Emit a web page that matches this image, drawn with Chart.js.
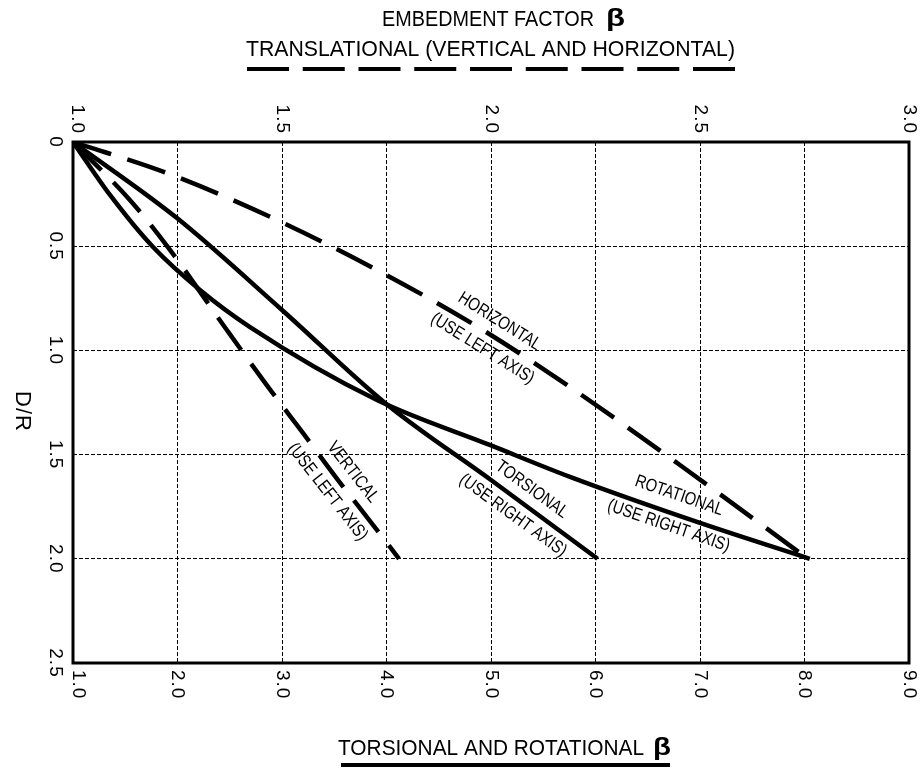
<!DOCTYPE html>
<html>
<head>
<meta charset="utf-8">
<script src="https://cdn.jsdelivr.net/npm/chart.js@4.4.1/dist/chart.umd.min.js"></script>
<style>
  html, body { margin: 0; padding: 0; background: #fff; }
  #wrap { width: 921px; height: 768px; }
</style>
</head>
<body>
<div id="wrap"><canvas id="myChart" width="921" height="768"></canvas></div>
<script>
// values: D/R against embedment factor beta
const horizontalBeta = [1.0, 1.225, 1.478, 1.727, 1.969, 2.189, 2.452, 2.758];
const horizontalDR   = [0,   0.149, 0.365, 0.614, 0.888, 1.176, 1.550, 2.0];

const verticalBeta = [1.0, 1.136, 1.227, 1.368, 1.467, 1.550, 1.634, 1.718, 1.780];
const verticalDR   = [0,   0.278, 0.504, 0.902, 1.176, 1.396, 1.622, 1.838, 2.0];

const torsionalBeta = [1.0, 1.995, 3.0, 3.986, 5.0, 6.02];
const torsionalDR   = [0,   0.365, 0.806, 1.252, 1.622, 2.0];

const rotationalBeta = [1.0, 1.354, 1.766, 2.215, 2.694, 3.909, 5.0, 5.756, 7.0, 8.05];
const rotationalDR   = [0,   0.254, 0.504, 0.710, 0.888, 1.238, 1.456, 1.607, 1.828, 2.0];

// tick labels
const topTicks = ['1.0', '1.5', '2.0', '2.5', '3.0'];
const bottomTicks = ['1.0', '2.0', '3.0', '4.0', '5.0', '6.0', '7.0', '8.0', '9.0'];
const leftTicks = ['0', '0.5', '1.0', '1.5', '2.0', '2.5'];

// text that sits along each curve
const curveLabels = [
  { lines: ['HORIZONTAL', '(USE LEFT AXIS)'], axis: 'xTop', x: 2.0, y: 0.926, angle: 32 },
  { lines: ['VERTICAL', '(USE LEFT AXIS)'], axis: 'xTop', x: 1.639, y: 1.632, angle: 52 },
  { lines: ['TORSIONAL', '(USE RIGHT AXIS)'], axis: 'x', x: 5.30, y: 1.73, angle: 36 },
  { lines: ['ROTATIONAL', '(USE RIGHT AXIS)'], axis: 'x', x: 6.75, y: 1.77, angle: 19 }
];

const FONT = '"Liberation Sans", Arial, sans-serif';

function toPoints(xs, ys) {
  return xs.map((x, i) => ({ x: x, y: ys[i] }));
}

function curve(data, axis, dashed) {
  return {
    data: data,
    xAxisID: axis,
    yAxisID: 'y',
    showLine: true,
    borderColor: '#000',
    borderWidth: 4.5,
    borderDash: dashed ? [40, 17] : [],
    borderCapStyle: 'butt',
    pointRadius: 0,
    cubicInterpolationMode: 'monotone',
    fill: false
  };
}

function rotText(ctx, text, x, y, align) {
  ctx.save();
  ctx.translate(x, y);
  ctx.rotate(Math.PI / 2);
  ctx.textAlign = align;
  ctx.textBaseline = 'middle';
  ctx.fillText(text, 0, 0);
  ctx.restore();
}

function fitText(ctx, text, x, y, width, size, bold) {
  ctx.save();
  ctx.font = (bold ? 'bold ' : '') + size + 'px ' + FONT;
  const m = ctx.measureText(text).width;
  ctx.translate(x, y);
  ctx.scale(width / m, 1);
  ctx.textAlign = 'left';
  ctx.textBaseline = 'middle';
  ctx.fillText(text, 0, 0);
  ctx.restore();
}

const decorations = {
  id: 'decorations',
  afterDraw(chart) {
    const { ctx, chartArea: a, scales } = chart;
    ctx.save();
    ctx.fillStyle = '#000';
    ctx.strokeStyle = '#000';

    // frame
    ctx.lineWidth = 3;
    ctx.strokeRect(a.left, a.top, a.right - a.left, a.bottom - a.top);

    // tick labels, turned a quarter clockwise like the original
    ctx.font = '19px ' + FONT;
    ctx.letterSpacing = '1px';
    topTicks.forEach((t, i) => rotText(ctx, t, scales.xTop.getPixelForValue(+t) + (i === 0 ? 4 : 0), a.top - 8, 'right'));
    bottomTicks.forEach((t, i) => rotText(ctx, t, scales.x.getPixelForValue(+t) + (i === 0 ? 5 : 0), a.bottom + 7, 'left'));
    leftTicks.forEach(t => rotText(ctx, t, a.left - 18, scales.y.getPixelForValue(+t), 'center'));

    ctx.font = '22px ' + FONT;
    rotText(ctx, 'D/R', 22, (a.top + a.bottom) / 2 + 9, 'center');
    ctx.letterSpacing = '0px';

    // titles
    fitText(ctx, 'EMBEDMENT FACTOR', 382, 20, 212, 22);
    fitText(ctx, 'β', 606, 20, 19, 23, true);
    fitText(ctx, 'TRANSLATIONAL (VERTICAL AND HORIZONTAL)', 246, 50, 489, 22);
    fitText(ctx, 'TORSIONAL AND ROTATIONAL', 338, 749, 306, 22);
    fitText(ctx, 'β', 653, 749, 18, 23, true);

    // legend strokes under the titles
    ctx.lineWidth = 4;
    ctx.setLineDash([42, 13.75]);
    ctx.beginPath();
    ctx.moveTo(247, 69);
    ctx.lineTo(735, 69);
    ctx.stroke();
    ctx.setLineDash([]);
    ctx.beginPath();
    ctx.moveTo(341, 765);
    ctx.lineTo(670, 765);
    ctx.stroke();

    // curve labels
    curveLabels.forEach(l => {
      const px = scales[l.axis].getPixelForValue(l.x);
      const py = scales.y.getPixelForValue(l.y);
      ctx.save();
      ctx.translate(px, py);
      ctx.rotate(l.angle * Math.PI / 180);
      ctx.scale(0.82, 1);
      ctx.font = '18px ' + FONT;
      ctx.textAlign = 'center';
      ctx.textBaseline = 'middle';
      ctx.fillText(l.lines[0], 0, -16);
      ctx.fillText(l.lines[1], 0, 16);
      ctx.restore();
    });

    ctx.restore();
  }
};

const gridOpts = { color: '#000', lineWidth: 1, drawTicks: false };

const ctx = document.getElementById('myChart');

const myChart = new Chart(ctx, {
  type: 'scatter',
  data: {
    datasets: [
      curve(toPoints(horizontalBeta, horizontalDR), 'xTop', true),
      curve(toPoints(verticalBeta, verticalDR), 'xTop', true),
      curve(toPoints(torsionalBeta, torsionalDR), 'x', false),
      curve(toPoints(rotationalBeta, rotationalDR), 'x', false)
    ]
  },
  options: {
    responsive: false,
    animation: false,
    layout: { padding: { left: 73, right: 12, top: 142, bottom: 105 } },
    plugins: {
      legend: { display: false },
      tooltip: { enabled: false }
    },
    scales: {
      x: {
        type: 'linear', position: 'bottom', min: 1, max: 9,
        ticks: { display: false, stepSize: 1 },
        grid: gridOpts,
        border: { display: false, dash: [4, 2] },
        afterFit(s) { s.height = 0; }
      },
      xTop: {
        type: 'linear', position: 'top', min: 1, max: 3,
        ticks: { display: false },
        grid: { display: false },
        border: { display: false },
        afterFit(s) { s.height = 0; }
      },
      y: {
        type: 'linear', reverse: true, min: 0, max: 2.5,
        ticks: { display: false, stepSize: 0.5 },
        grid: gridOpts,
        border: { display: false, dash: [4, 2] },
        afterFit(s) { s.width = 0; }
      }
    }
  },
  plugins: [decorations]
});
</script>
</body>
</html>
